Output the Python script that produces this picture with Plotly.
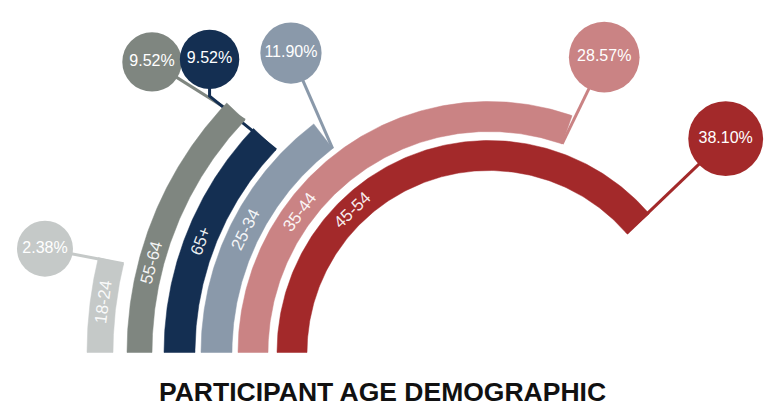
import numpy as np
import plotly.graph_objects as go

# ---------------- data ----------------
categories = ["18-24", "55-64", "65+", "25-34", "35-44", "45-54"]   # outer ring -> inner ring
percent = [2.38, 9.52, 9.52, 11.90, 28.57, 38.10]
pct_labels = ["2.38%", "9.52%", "9.52%", "11.90%", "28.57%", "38.10%"]
title_text = "PARTICIPANT AGE DEMOGRAPHIC"

# ---------------- styles / layout constants ----------------
colors = ["#c5c9c8", "#7f8680", "#142f52", "#8a99aa", "#ca8384", "#a3292a"]
W, H = 765, 408
CX, CY = 489, 55.5                       # centre of the rings (axis units)
r_outer = [402, 362, 325, 288, 251, 212]
r_inner = [376, 337, 294, 257, 221, 182]
label_offset_deg = [7.4, 14.8, 21.1, 26.8, 36.5, 46.0]   # label position along each ring
bubble_gap = [54, 83, 80, 71, 66, 107]                   # bubble distance beyond ring
bubble_nudge_deg = [0.5, 2.8, -2.8, -4.0, -2.0, 1.2]     # bubble angular nudge
bubble_elbow = [False, False, True, False, False, False]
FONT = "Liberation Sans, Arial, Helvetica, sans-serif"

# angular scale: percent -> sweep in degrees (power scale)
VMAX = max(percent)
SWEEP_MAX = 139.1
EXP = 0.837


def sweep(v):
    return SWEEP_MAX * (v / VMAX) ** EXP


def pol(r, deg):
    t = np.deg2rad(deg)
    return CX + r * np.cos(t), CY + r * np.sin(t)


def bubble_size(v):
    return max(56.0, 44 + 5 * np.sqrt(v))


fig = go.Figure()

# leader lines
for i, v in enumerate(percent):
    end = 180 - sweep(v)
    x0, y0 = pol(r_inner[i], end)
    bx, by = pol(r_outer[i] + bubble_gap[i], end + bubble_nudge_deg[i])
    xs, ys = [x0], [y0]
    if bubble_elbow[i]:
        xs.append(bx)
        ys.append(by - bubble_size(v) / 2 - 7)
    xs.append(bx)
    ys.append(by)
    fig.add_trace(go.Scatter(x=xs, y=ys, mode="lines",
                             line=dict(color=colors[i], width=3),
                             hoverinfo="skip"))

# ring bars
for i, v in enumerate(percent):
    ang = np.linspace(180, 180 - sweep(v), 200)
    xo, yo = pol(r_outer[i], ang)
    xi, yi = pol(r_inner[i], ang[::-1])
    fig.add_trace(go.Scatter(x=np.concatenate([xo, xi, xo[:1]]),
                             y=np.concatenate([yo, yi, yo[:1]]),
                             mode="lines", fill="toself",
                             fillcolor=colors[i],
                             line=dict(color=colors[i], width=0.5),
                             hoverinfo="skip"))

# bubbles
bxs, bys, sizes = [], [], []
for i, v in enumerate(percent):
    end = 180 - sweep(v)
    bx, by = pol(r_outer[i] + bubble_gap[i], end + bubble_nudge_deg[i])
    bxs.append(bx)
    bys.append(by)
    sizes.append(bubble_size(v))
fig.add_trace(go.Scatter(x=bxs, y=bys, mode="markers+text",
                         marker=dict(size=sizes, color=colors, line=dict(width=0), opacity=1),
                         text=pct_labels, textposition="middle center",
                         textfont=dict(family=FONT, size=16, color="white"),
                         hoverinfo="skip"))

# category labels along the rings
annotations = []
for i, cat in enumerate(categories):
    phi = 180 - label_offset_deg[i]
    lx, ly = pol((r_outer[i] + r_inner[i]) / 2, phi)
    annotations.append(dict(x=lx, y=ly, xref="x", yref="y", text=cat,
                            showarrow=False, textangle=90 - phi,
                            xanchor="center", yanchor="middle",
                            font=dict(family=FONT, size=17, color="rgba(255,255,255,0.92)")))

annotations.append(dict(x=0.5, y=(H - 392) / H, xref="paper", yref="paper",
                        text=title_text, showarrow=False,
                        xanchor="center", yanchor="middle",
                        font=dict(family=FONT, size=26.5, color="#111111", weight="bold")))

fig.update_layout(
    width=W, height=H, autosize=False,
    margin=dict(l=0, r=0, t=0, b=0),
    paper_bgcolor="white", plot_bgcolor="white",
    showlegend=False, hovermode=False,
    xaxis=dict(range=[0, W], visible=False, fixedrange=True),
    yaxis=dict(range=[0, H], visible=False, fixedrange=True),
    annotations=annotations,
)

fig.write_html("out.html")
